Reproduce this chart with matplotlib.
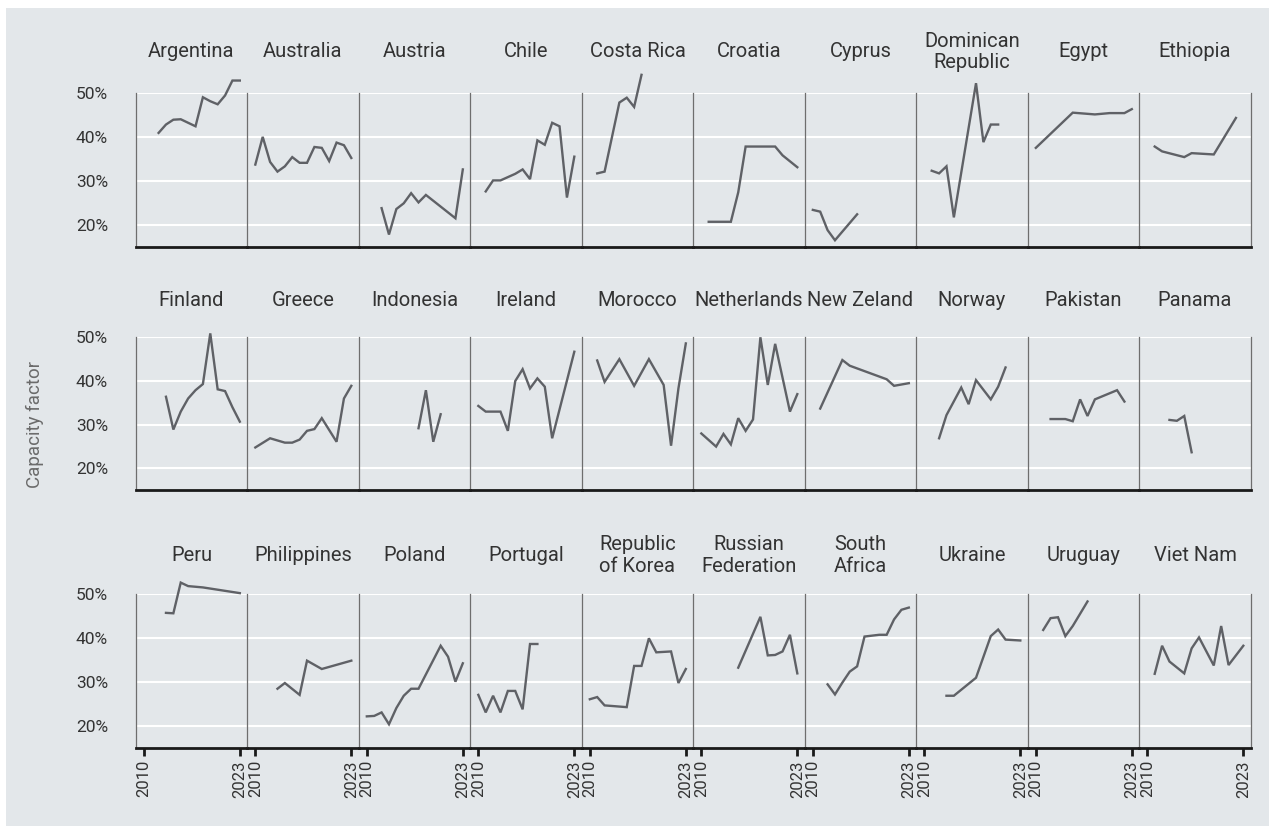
import matplotlib.pyplot as plt
from matplotlib.patches import Rectangle

plt.rcParams['font.family'] = ['Roboto', 'DejaVu Sans']

# capacity factor (%) by country
countries = [
    "Argentina", "Australia", "Austria", "Chile", "Costa Rica",
    "Croatia", "Cyprus", "Dominican\nRepublic", "Egypt", "Ethiopia",
    "Finland", "Greece", "Indonesia", "Ireland", "Morocco",
    "Netherlands", "New Zeland", "Norway", "Pakistan", "Panama",
    "Peru", "Philippines", "Poland", "Portugal", "Republic\nof Korea",
    "Russian\nFederation", "South\nAfrica", "Ukraine", "Uruguay", "Viet Nam",
]

years = {
    "Argentina": [2012, 2013, 2014, 2015, 2017, 2018, 2019, 2020, 2021, 2022, 2023],
    "Australia": list(range(2010, 2024)),
    "Austria": [2012, 2013, 2014, 2015, 2016, 2017, 2018, 2022, 2023],
    "Chile": [2011, 2012, 2013, 2015, 2016, 2017, 2018, 2019, 2020, 2021, 2022, 2023],
    "Costa Rica": [2011, 2012, 2014, 2015, 2016, 2017],
    "Croatia": [2011, 2014, 2015, 2016, 2020, 2021, 2023],
    "Cyprus": [2010, 2011, 2012, 2013, 2016],
    "Dominican\nRepublic": [2011, 2012, 2013, 2014, 2017, 2018, 2019, 2020],
    "Egypt": [2010, 2015, 2018, 2020, 2022, 2023],
    "Ethiopia": [2011, 2012, 2015, 2016, 2019, 2022],
    "Finland": list(range(2013, 2024)),
    "Greece": [2010, 2012, 2014, 2015, 2016, 2017, 2018, 2019, 2021, 2022, 2023],
    "Indonesia": [2017, 2018, 2019, 2020],
    "Ireland": [2010, 2011, 2013, 2014, 2015, 2016, 2017, 2018, 2019, 2020, 2023],
    "Morocco": [2011, 2012, 2014, 2016, 2018, 2020, 2021, 2022, 2023],
    "Netherlands": [2010, 2012, 2013, 2014, 2015, 2016, 2017, 2018, 2019, 2020, 2022, 2023],
    "New Zeland": [2011, 2014, 2015, 2020, 2021, 2023],
    "Norway": [2012, 2013, 2015, 2016, 2017, 2019, 2020, 2021],
    "Pakistan": [2012, 2014, 2015, 2016, 2017, 2018, 2021, 2022],
    "Panama": [2013, 2014, 2015, 2016],
    "Peru": [2013, 2014, 2015, 2016, 2018, 2023],
    "Philippines": [2013, 2014, 2016, 2017, 2019, 2023],
    "Poland": [2010, 2011, 2012, 2013, 2014, 2015, 2016, 2017, 2020, 2021, 2022, 2023],
    "Portugal": [2010, 2011, 2012, 2013, 2014, 2015, 2016, 2017, 2018],
    "Republic\nof Korea": [2010, 2011, 2012, 2015, 2016, 2017, 2018, 2019, 2021, 2022, 2023],
    "Russian\nFederation": [2015, 2018, 2019, 2020, 2021, 2022, 2023],
    "South\nAfrica": [2012, 2013, 2014, 2015, 2016, 2017, 2019, 2020, 2021, 2022, 2023],
    "Ukraine": [2013, 2014, 2017, 2019, 2020, 2021, 2023],
    "Uruguay": [2011, 2012, 2013, 2014, 2015, 2017],
    "Viet Nam": [2011, 2012, 2013, 2015, 2016, 2017, 2019, 2020, 2021, 2023],
}

values = {
    "Argentina": [41.0, 42.9, 44.0, 44.1, 42.5, 49.1, 48.2, 47.5, 49.5, 52.9, 52.9],
    "Australia": [33.8, 40.1, 34.4, 32.2, 33.4, 35.5, 34.2, 34.2, 37.8, 37.6, 34.6, 38.8, 38.2, 35.3],
    "Austria": [23.9, 17.9, 23.7, 25.0, 27.3, 25.2, 26.9, 21.6, 32.7],
    "Chile": [27.7, 30.2, 30.2, 31.7, 32.7, 30.5, 39.3, 38.3, 43.3, 42.5, 26.3, 35.6],
    "Costa Rica": [31.8, 32.2, 47.9, 49.0, 46.9, 54.2],
    "Croatia": [20.8, 20.8, 27.5, 37.9, 37.9, 35.9, 33.2],
    "Cyprus": [23.5, 23.1, 18.9, 16.6, 22.5],
    "Dominican\nRepublic": [32.4, 31.8, 33.4, 21.8, 52.3, 38.9, 42.9, 42.9],
    "Egypt": [37.6, 45.6, 45.2, 45.5, 45.5, 46.4],
    "Ethiopia": [37.9, 36.8, 35.5, 36.4, 36.1, 44.4],
    "Finland": [36.4, 28.9, 33.0, 36.0, 37.9, 39.3, 50.9, 38.1, 37.7, 34.0, 30.7],
    "Greece": [24.8, 26.9, 25.9, 25.9, 26.6, 28.6, 29.0, 31.5, 26.1, 36.0, 38.9],
    "Indonesia": [29.2, 37.9, 26.1, 32.4],
    "Ireland": [34.3, 33.0, 33.0, 28.6, 40.0, 42.7, 38.3, 40.6, 38.7, 26.9, 46.7],
    "Morocco": [44.7, 39.8, 45.0, 38.9, 45.0, 39.1, 25.2, 38.3, 48.6],
    "Netherlands": [28.0, 25.0, 27.9, 25.5, 31.5, 28.6, 31.2, 50.0, 39.1, 48.5, 33.0, 37.0],
    "New Zeland": [33.7, 44.8, 43.5, 40.4, 38.9, 39.5],
    "Norway": [26.9, 32.2, 38.5, 34.7, 40.2, 35.8, 38.7, 43.1],
    "Pakistan": [31.3, 31.3, 30.8, 35.8, 32.0, 35.8, 37.9, 35.3],
    "Panama": [31.1, 30.9, 32.0, 23.7],
    "Peru": [45.7, 45.6, 52.6, 51.8, 51.5, 50.2],
    "Philippines": [28.4, 29.7, 27.0, 34.8, 32.9, 34.8],
    "Poland": [22.1, 22.2, 23.0, 20.3, 24.0, 26.8, 28.4, 28.4, 38.2, 35.7, 30.0, 34.2],
    "Portugal": [27.0, 23.0, 26.8, 23.0, 27.9, 27.9, 23.7, 38.6, 38.6],
    "Republic\nof Korea": [26.0, 26.5, 24.6, 24.2, 33.6, 33.6, 39.9, 36.7, 36.9, 29.7, 32.9],
    "Russian\nFederation": [33.2, 44.8, 36.0, 36.1, 36.9, 40.7, 31.9],
    "South\nAfrica": [29.4, 27.1, 29.8, 32.3, 33.5, 40.3, 40.7, 40.7, 44.2, 46.4, 46.9],
    "Ukraine": [26.8, 26.8, 30.9, 40.4, 41.9, 39.6, 39.4],
    "Uruguay": [41.8, 44.5, 44.7, 40.4, 42.7, 48.3],
    "Viet Nam": [31.8, 38.2, 34.6, 31.9, 37.6, 40.1, 33.7, 42.7, 33.8, 38.2],
}

y_ticks = [20, 30, 40, 50]
x_ticks = [2010, 2023]

BG = "#E3E7EA"
LINE = "#5F6166"
TEXT = "#333333"

W, H = 1269, 826
fig = plt.figure(figsize=(W / 100, H / 100), dpi=100, facecolor="white")
fig.patches.append(Rectangle((6 / W, 0), 1 - 6 / W, 1 - 8 / H,
                             transform=fig.transFigure, facecolor=BG,
                             edgecolor="none", zorder=-10))

# pixel layout of the panel grid
left_px, panel_w = 135.7, 111.5
row_top_px = [93.3, 337.3, 594.0]
row_h_px = [154.0, 153.0, 153.5]
title_off_px = [41.5, 36.5, 38.5]

for i, name in enumerate(countries):
    r, c = divmod(i, 10)
    x0 = (left_px + c * panel_w) / W
    y0 = 1 - (row_top_px[r] + row_h_px[r]) / H
    ax = fig.add_axes([x0, y0, panel_w / W, row_h_px[r] / H])
    ax.set_facecolor("none")
    ax.set_xlim(2008.9, 2024.0)
    ax.set_ylim(15, 50)

    for v in y_ticks:
        ax.axhline(v, color="white", lw=1.5, zorder=1)

    ax.plot(years[name], values[name], color=LINE, lw=1.7,
            clip_on=False, zorder=3, solid_joinstyle="miter")

    ax.spines["top"].set_visible(False)
    ax.spines["left"].set_color("#6E6E6E")
    ax.spines["left"].set_linewidth(0.9)
    if c == 9:
        ax.spines["right"].set_color("#6E6E6E")
        ax.spines["right"].set_linewidth(0.9)
    else:
        ax.spines["right"].set_visible(False)
    ax.spines["bottom"].set_color("#1A1A1A")
    ax.spines["bottom"].set_linewidth(2.0)

    ax.set_yticks(y_ticks)
    if c == 0:
        ax.set_yticklabels([f"{v}%" for v in y_ticks], fontsize=12.5, color=TEXT)
        ax.tick_params(axis="y", length=0, pad=20)
    else:
        ax.set_yticklabels([])
        ax.tick_params(axis="y", length=0)

    ax.set_xticks(x_ticks)
    if r == 2:
        ax.set_xticklabels([str(v) for v in x_ticks], rotation=90,
                           fontsize=12, color=TEXT)
        ax.tick_params(axis="x", length=6, width=2, color="#1A1A1A", pad=3)
    else:
        ax.tick_params(axis="x", length=0, labelbottom=False)

    ax.text(0.5, 1 + title_off_px[r] / row_h_px[r], name, transform=ax.transAxes,
            ha="center", va="center", fontsize=14.5, color=TEXT,
            linespacing=1.15)

fig.text(35 / W, 1 - 424 / H, "Capacity factor", rotation=90,
         ha="center", va="center", fontsize=13.5, color="#6B6B6B")

fig.savefig("out.png", dpi=100, facecolor=fig.get_facecolor())
